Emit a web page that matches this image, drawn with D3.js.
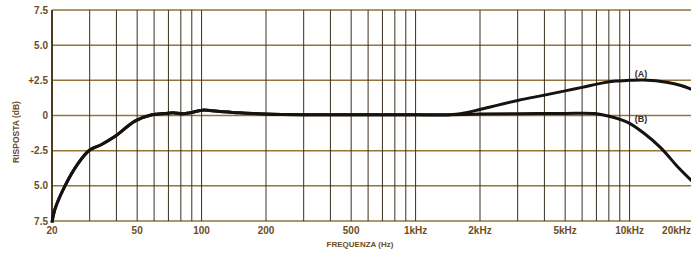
<!DOCTYPE html>
<html>
<head>
<meta charset="utf-8">
<script src="https://cdn.jsdelivr.net/npm/d3@7"></script>
<style>
  body { margin: 0; background: #fff; }
  svg { display: block; font-family: "Liberation Sans", Arial, sans-serif; font-weight: bold; }
</style>
</head>
<body>
<div id="chart"></div>
<script>
var grid_color_h = '#957339';
var grid_color_v = '#3a3020';
var text_color = '#6e4c1f';
var curve_color = '#151210';

// shared low/mid part of the response
var freq_common = [20, 20.6, 23, 26.5, 30, 34.1, 39.3, 48.8, 58.6, 67.4, 73.5, 81.7, 88.4, 100.7, 118.8, 150, 197, 300, 500, 1000, 1450];
var resp_common = [-7.6, -6.7, -5.0, -3.4, -2.45, -2.06, -1.5, -0.4, 0.05, 0.14, 0.19, 0.12, 0.19, 0.38, 0.3, 0.19, 0.1, 0.05, 0.05, 0.05, 0.06];

// curve (A)
var freq_a = [1750, 2000, 3000, 4000, 5000, 6000, 7400, 8600, 10000, 11600, 15100, 17400, 20000];
var resp_a = [0.22, 0.43, 1.07, 1.45, 1.75, 2.0, 2.3, 2.45, 2.5, 2.52, 2.35, 2.13, 1.8];

// curve (B)
var freq_b = [2000, 3000, 5000, 6900, 8200, 9900, 11600, 14000, 16900, 20000];
var resp_b = [0.1, 0.12, 0.15, 0.14, -0.09, -0.52, -1.23, -2.3, -3.7, -4.8];

var grid_freqs = [20, 30, 40, 50, 60, 70, 80, 90, 100, 200, 300, 400, 500, 600, 700, 800, 900, 1000,
                  2000, 3000, 4000, 5000, 6000, 7000, 8000, 9000, 10000, 20000];
var x_tick_values = [20, 50, 100, 200, 500, 1000, 2000, 5000, 10000, 20000];
var x_tick_labels = ['20', '50', '100', '200', '500', '1kHz', '2kHz', '5kHz', '10kHz', '20kHz'];
var y_tick_values = [7.5, 5, 2.5, 0, -2.5, -5, -7.5];
var y_tick_labels = ['7.5', '5.0', '+2.5', '0', '-2.5', '5.0', '7.5'];

var width = 691, height = 253;

var x = d3.scaleLog().domain([20, 20000]).range([52, 694]);
var y = d3.scaleLinear().domain([-7.5, 7.5]).range([221, 10]);

var svg = d3.select('#chart').append('svg')
    .attr('width', width)
    .attr('height', height)
    .attr('viewBox', '0 0 ' + width + ' ' + height);

var grid = svg.append('g').attr('class', 'grid');

grid.selectAll('line.h')
    .data(y_tick_values)
    .enter().append('line')
    .attr('class', 'h')
    .attr('x1', x(20))
    .attr('x2', width)
    .attr('y1', function(d) { return y(d); })
    .attr('y2', function(d) { return y(d); })
    .attr('stroke', grid_color_h)
    .attr('stroke-width', 1.5);

grid.selectAll('line.v')
    .data(grid_freqs)
    .enter().append('line')
    .attr('class', 'v')
    .attr('x1', function(d) { return x(d); })
    .attr('x2', function(d) { return x(d); })
    .attr('y1', y(7.5))
    .attr('y2', y(-7.5))
    .attr('stroke', grid_color_v)
    .attr('stroke-width', 1);

// left axis line a bit heavier
svg.append('line')
    .attr('x1', x(20)).attr('x2', x(20))
    .attr('y1', y(7.5)).attr('y2', y(-7.5))
    .attr('stroke', '#4a3a20')
    .attr('stroke-width', 2);

// y tick labels
svg.append('g').selectAll('text')
    .data(y_tick_values)
    .enter().append('text')
    .attr('x', 48)
    .attr('y', function(d) { return y(d); })
    .attr('dy', '0.36em')
    .attr('text-anchor', 'end')
    .attr('fill', text_color)
    .style('font-size', '10px')
    .text(function(d, i) { return y_tick_labels[i]; });

// x tick labels
svg.append('g').selectAll('text')
    .data(x_tick_values)
    .enter().append('text')
    .attr('x', function(d, i) { return i === x_tick_values.length - 1 ? width : x(d); })
    .attr('y', 234)
    .attr('text-anchor', function(d, i) { return i === x_tick_values.length - 1 ? 'end' : 'middle'; })
    .attr('fill', text_color)
    .style('font-size', '10px')
    .text(function(d, i) { return x_tick_labels[i]; });

// axis titles
svg.append('text')
    .attr('x', 360)
    .attr('y', 247)
    .attr('text-anchor', 'middle')
    .attr('fill', text_color)
    .style('font-size', '8px')
    .text('FREQUENZA (Hz)');

svg.append('text')
    .attr('transform', 'translate(19,132) rotate(-90)')
    .attr('text-anchor', 'middle')
    .attr('fill', text_color)
    .style('font-size', '8.5px')
    .text('RISPOSTA (dB)');

// curves
var line = d3.line()
    .x(function(d) { return x(d[0]); })
    .y(function(d) { return y(d[1]); })
    .curve(d3.curveCatmullRom.alpha(0.5));

var common = d3.zip(freq_common, resp_common);
var series_a = common.concat(d3.zip(freq_a, resp_a));
var series_b = common.concat(d3.zip(freq_b, resp_b));

svg.append('path')
    .datum(series_b)
    .attr('d', line)
    .attr('fill', 'none')
    .attr('stroke', curve_color)
    .attr('stroke-width', 3)
    .attr('stroke-linejoin', 'round');

svg.append('path')
    .datum(series_a)
    .attr('d', line)
    .attr('fill', 'none')
    .attr('stroke', curve_color)
    .attr('stroke-width', 3)
    .attr('stroke-linejoin', 'round');

// curve labels
svg.append('text')
    .attr('x', 641).attr('y', 74).attr('dy', '0.35em')
    .attr('text-anchor', 'middle')
    .attr('fill', '#3a2a14')
    .style('font-size', '9px')
    .text('(A)');

svg.append('text')
    .attr('x', 641).attr('y', 119).attr('dy', '0.35em')
    .attr('text-anchor', 'middle')
    .attr('fill', '#3a2a14')
    .style('font-size', '9px')
    .text('(B)');
</script>
</body>
</html>
